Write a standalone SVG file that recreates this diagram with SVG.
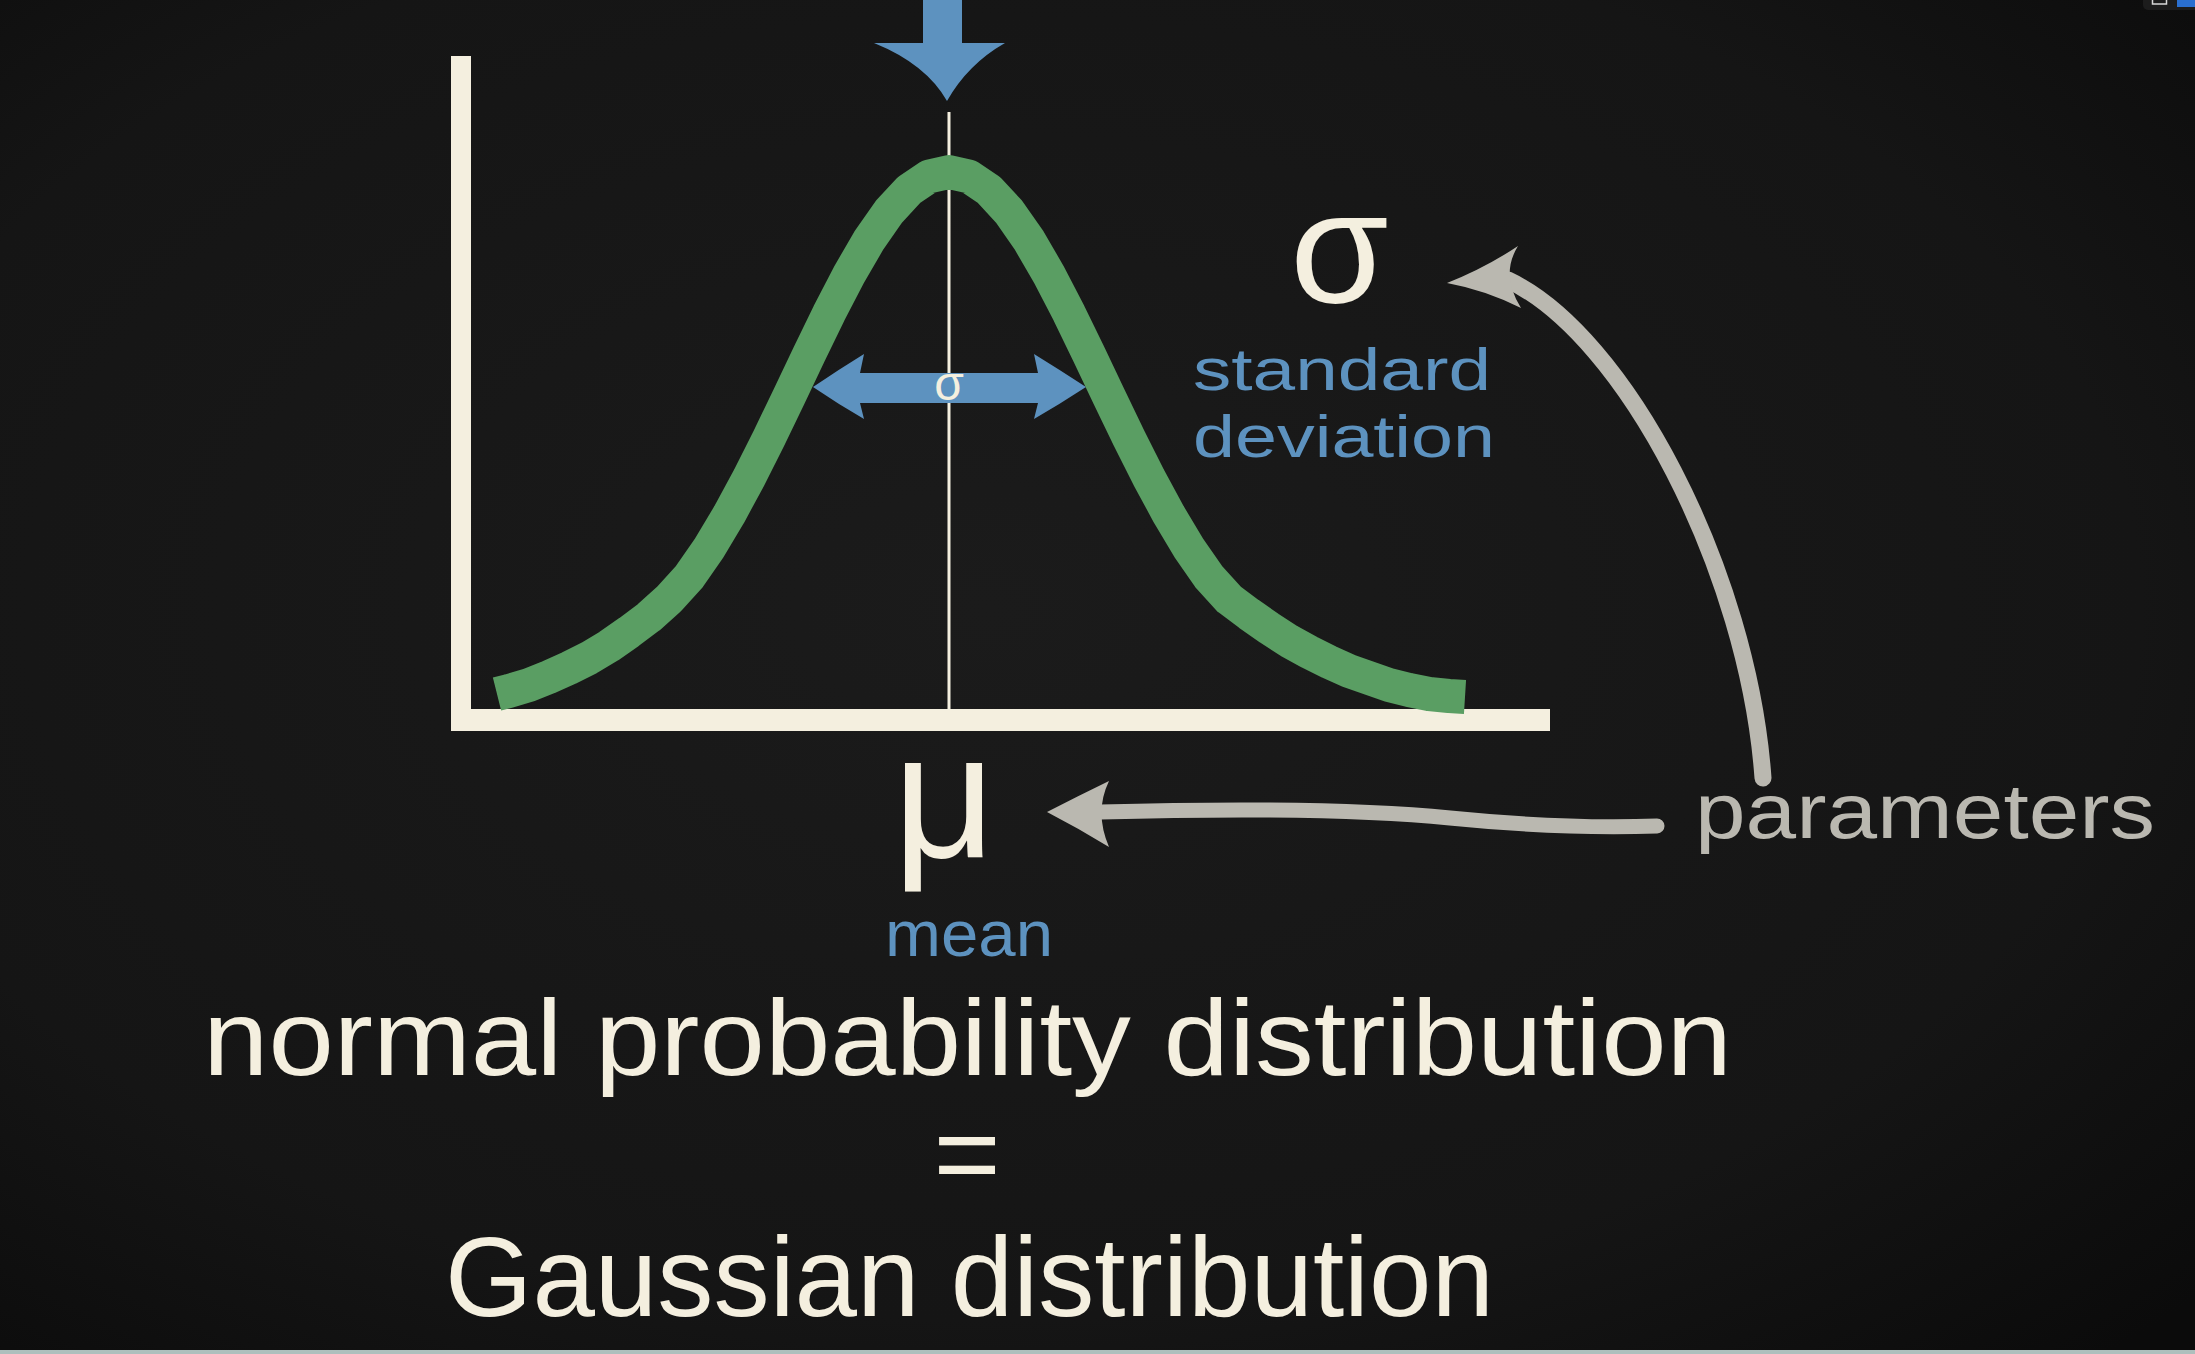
<svg xmlns="http://www.w3.org/2000/svg" width="2195" height="1354" viewBox="0 0 2195 1354">
<defs>
<radialGradient id="bg" cx="0.45" cy="0.45" r="0.75">
<stop offset="0" stop-color="#1b1b1b"/>
<stop offset="0.7" stop-color="#151515"/>
<stop offset="1" stop-color="#0b0b0b"/>
</radialGradient>
</defs>
<style>
.cream{fill:#f4efdf}
.blue{fill:#5d92bf}
.gray{fill:#bab8b0}
.txt{font-family:"Liberation Sans",Arial,sans-serif}
.hand{font-family:"Liberation Sans",Arial,sans-serif}
</style>
<rect x="0" y="0" width="2195" height="1354" fill="url(#bg)"/>
<rect x="0" y="1350" width="2195" height="4" fill="#aebfbd"/>
<g id="ui-corner">
<rect x="2143" y="-6" width="60" height="16" rx="5" fill="#1c1c1c"/>
<rect x="2152.5" y="-2" width="14" height="6" fill="none" stroke="#d8d8d8" stroke-width="1.5"/>
<rect x="2177" y="0" width="18" height="7" fill="#2a6fd0"/>
</g>

<g id="axes">
<rect x="451" y="56" width="20" height="675" class="cream"/>
<rect x="451" y="709" width="1099" height="22" class="cream"/>
<rect x="947.5" y="112" width="3" height="598" class="cream"/>
</g>

<g id="bell-curve">
<path fill="none" stroke="#5a9e63" stroke-width="34" stroke-linejoin="round" d="M497,694 L509,691 L529,685 L549,677 L569,668 L589,658 L609,646 L629,632 L649,617 L669,599 L689,577 L709,548.2 L729,514.8 L749,477.8 L769,438.1 L789,396.6 L809,354.5 L829,313.3 L849,274.7 L869,240.3 L889,211.6 L909,190 L929,176.5 L949,172 L969,176.5 L989,190 L1009,211.6 L1029,240.3 L1049,274.7 L1069,313.3 L1089,354.5 L1109,396.6 L1129,438.1 L1149,477.8 L1169,514.8 L1189,548.2 L1209,577 L1229,599 L1249,614 L1269,628 L1289,641 L1309,652 L1329,662 L1349,671 L1369,678 L1389,685 L1409,690 L1429,694 L1449,696 L1465,697"/>
</g>

<g id="mean-arrow-top">
<path class="blue" d="M923,0 L962,0 L962,43 L1005,43 Q968,64 947,101 Q926,64 874,43 L923,43 Z"/>
</g>

<g id="sigma-arrow">
<path class="blue" d="M813,387 Q838,370 864,354 L860,373 L1038,373 L1034,354 Q1060,370 1086,387 Q1060,404 1034,419 L1038,403 L860,403 L864,419 Q838,404 813,387 Z"/>
<text x="949" y="400" class="txt" font-size="48" fill="#f4efdf" text-anchor="middle">σ</text>
</g>

<g id="sigma-label">
<text x="1290" y="302" class="txt cream" font-size="160">σ</text>
<text x="1193" y="390" class="hand blue" font-size="60" textLength="298" lengthAdjust="spacingAndGlyphs">standard</text>
<text x="1193" y="457" class="hand blue" font-size="60" textLength="302" lengthAdjust="spacingAndGlyphs">deviation</text>
</g>

<g id="mu-label">
<text x="893" y="857" class="txt cream" font-size="178">μ</text>
<text x="885" y="956" class="hand blue" font-size="64" textLength="168" lengthAdjust="spacingAndGlyphs">mean</text>
</g>

<g id="parameters">
<text x="1695" y="838" class="hand gray" font-size="78" textLength="460" lengthAdjust="spacingAndGlyphs">parameters</text>
</g>

<g id="connectors" fill="none" stroke="#bab8b0" stroke-linecap="round">
<path stroke-width="15" d="M1100,812 C1250,808 1370,810 1450,818 S1600,828 1657,826"/>
<path class="gray" stroke="none" d="M1047,812 Q1078,796 1109,781 Q1094,812 1109,847 Q1078,828 1047,812 Z"/>
<path stroke-width="17" d="M1763,778 C1748,570 1625,335 1508,280"/>
<path class="gray" stroke="none" d="M1447,283 Q1485,268 1518,246 Q1500,275 1521,308 Q1485,290 1447,283 Z"/>
</g>

<g id="title">
<text x="203" y="1075" class="hand cream" font-size="108" textLength="1529" lengthAdjust="spacingAndGlyphs">normal probability distribution</text>
<text x="967" y="1193" class="hand cream" font-size="115" text-anchor="middle">=</text>
<text x="445" y="1316" class="hand cream" font-size="114" textLength="1049" lengthAdjust="spacingAndGlyphs">Gaussian distribution</text>
</g>
</svg>
